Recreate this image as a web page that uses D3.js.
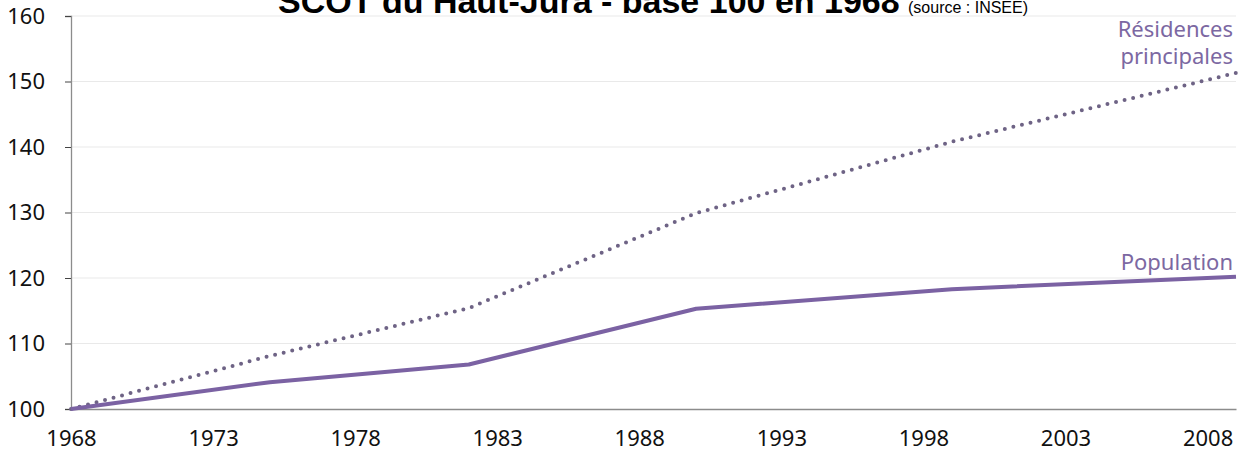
<!DOCTYPE html>
<html>
<head>
<meta charset="utf-8">
<script src="https://cdn.jsdelivr.net/npm/d3@7"></script>
<style>
  html,body{margin:0;padding:0;background:#fff;}
  svg{display:block;}
</style>
</head>
<body>
<svg id="chart"></svg>
<script>
// ---------- DATA ----------------------------------------------------------
const years       = [1968, 1975, 1982, 1990, 1999, 2009];
const population  = [100, 104.1, 106.8, 115.3, 118.3, 120.2];
const residences  = [100, 108.1, 115.4, 129.9, 140.8, 151.3];
const yTicks      = [100, 110, 120, 130, 140, 150, 160];
const xTicks      = [1968, 1973, 1978, 1983, 1988, 1993, 1998, 2003, 2008];
const titleMain   = 'SCOT du Haut-Jura - base 100 en 1968';
const titleSource = '(source : INSEE)';

// ---------- LAYOUT --------------------------------------------------------
const W = 1254, H = 456,
      M = {top:16, right:18, bottom:47, left:71},
      IW = W-M.left-M.right,
      IH = H-M.top-M.bottom;
const COLORS = {line:'#7b62a3', dots:'#6e6385', label:'#7c68a2', grid:'#e9e9e9', axis:'#8c8c8c', text:'#111'};
const FONT = '"Noto Sans", "Open Sans", sans-serif';

const svg = d3.select('#chart').attr('width', W).attr('height', H);
const g = svg.append('g').attr('transform', `translate(${M.left},${M.top})`);

// scales
const x = d3.scaleLinear().domain([1968, 2009]).range([0, IW]);
const y = d3.scaleLinear().domain([100, 160]).range([IH, 0]);

// gridlines
g.append('g')
  .selectAll('line').data(yTicks.filter(d => d > 100)).enter().append('line')
  .attr('x1', 0).attr('x2', IW)
  .attr('y1', d => y(d)).attr('y2', d => y(d))
  .attr('stroke', COLORS.grid).attr('stroke-width', 1);

// y axis
const yAxis = g.append('g').call(d3.axisLeft(y).tickValues(yTicks).tickSize(6).tickPadding(20));
yAxis.select('.domain').attr('stroke', COLORS.axis).attr('stroke-width', 1.3);
yAxis.selectAll('.tick line').attr('stroke', '#444');
yAxis.selectAll('.tick text').attr('font-family', FONT).attr('font-size', 22).attr('fill', COLORS.text);

// x axis
const xAxis = g.append('g').attr('transform', `translate(0,${IH})`)
  .call(d3.axisBottom(x).tickValues(xTicks).tickFormat(d3.format('d')).tickSize(0).tickPadding(21));
xAxis.select('.domain').attr('stroke', COLORS.axis).attr('stroke-width', 1.3);
xAxis.selectAll('.tick text').attr('font-family', FONT).attr('font-size', 22).attr('fill', COLORS.text);

// lines
const line = vals => d3.line().x((d,i) => x(years[i])).y(d => y(d))(vals);

g.append('path')
  .attr('d', line(residences))
  .attr('fill', 'none')
  .attr('stroke', COLORS.dots)
  .attr('stroke-width', 4)
  .attr('stroke-linecap', 'round')
  .attr('stroke-dasharray', '0 8.8');

g.append('path')
  .attr('d', line(population))
  .attr('fill', 'none')
  .attr('stroke', COLORS.line)
  .attr('stroke-width', 4)
  .attr('stroke-linejoin', 'round');

// series labels
const lab = g.append('g').attr('font-family', FONT).attr('font-size', 22)
  .attr('fill', COLORS.label).attr('text-anchor', 'end');
lab.append('text').attr('x', IW-3).attr('y', y(residences[5]) - 36).text('Résidences');
lab.append('text').attr('x', IW-3).attr('y', y(residences[5]) - 9).text('principales');
lab.append('text').attr('x', IW-3).attr('y', y(population[5]) - 7).text('Population');

// title (partly cut off at top, as in the original)
const t = svg.append('text').attr('x', 278).attr('y', 13)
  .attr('font-family', '"Liberation Sans", Arial, sans-serif').attr('fill', '#000');
t.append('tspan').attr('font-size', 34).attr('font-weight', 'bold').text(titleMain);
t.append('tspan').attr('x', 908).attr('font-size', 16).text(titleSource);
</script>
</body>
</html>
